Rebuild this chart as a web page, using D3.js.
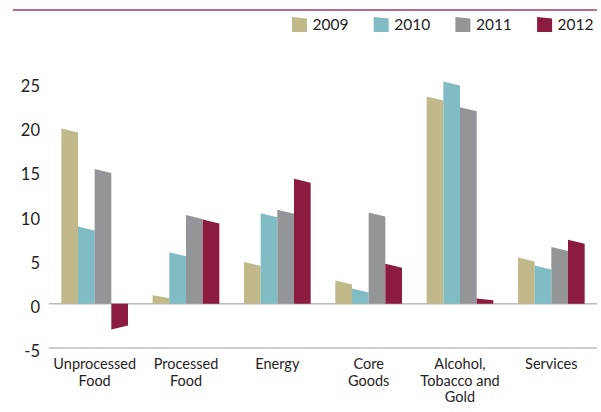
<!DOCTYPE html>
<html>
<head>
<meta charset="utf-8">
<script src="https://cdn.jsdelivr.net/npm/d3@7"></script>
<style>
  body { margin: 0; background: #fff; }
  text { font-family: Lato, "Open Sans", sans-serif; fill: #262223; }
</style>
</head>
<body>
<div id="chart"></div>
<script>
// data
var categories = [['Unprocessed', 'Food'], ['Processed', 'Food'], ['Energy'],
                  ['Core', 'Goods'], ['Alcohol,', 'Tobacco and', 'Gold'], ['Services']];
var years = ['2009', '2010', '2011', '2012'];
var v2009 = [19.6, 0.8, 4.5, 2.4, 23.2, 5.0];
var v2010 = [8.5, 5.6, 10.0, 1.5, 24.9, 4.1];
var v2011 = [15.0, 9.8, 10.4, 10.1, 22.0, 6.2];
var v2012 = [-2.7, 9.3, 13.9, 4.3, 0.5, 7.0];
var yTicks = [-5, 0, 5, 10, 15, 20, 25];
var colors = ['#c1b98a', '#80bcc4', '#939598', '#8b1b3f'];

var series = [v2009, v2010, v2011, v2012];
var catNames = categories.map(function(c){ return c.join(' '); });

var svg = d3.select('#chart')
            .append('svg')
            .attr('width', 601)
            .attr('height', 412);

// top rule
svg.append('line')
   .attr('x1', 13).attr('x2', 597)
   .attr('y1', 10).attr('y2', 10)
   .style('stroke', '#a53b60')
   .style('stroke-width', 1.6);

var x0 = d3.scaleBand().domain(catNames).range([49, 597])
           .paddingInner(0.27).paddingOuter(0.135);
var x1 = d3.scaleBand().domain(years).range([0, x0.bandwidth()]);
var y = d3.scaleLinear().domain([-5, 25]).range([347.9, 82.7]);

// gridlines (only 0 and -5 drawn)
svg.selectAll('.grid')
   .data([-5, 0])
   .enter().append('line')
   .attr('class', 'grid')
   .attr('x1', 49).attr('x2', 597)
   .attr('y1', function(d){ return y(d); })
   .attr('y2', function(d){ return y(d); })
   .style('stroke', '#bcbcbc')
   .style('stroke-width', 1.5);

// y axis labels (plain hyphen for negatives)
var yAxis = d3.axisLeft(y).tickValues(yTicks).tickSize(0).tickPadding(0)
              .tickFormat(function(d){ return String(d); });
var yg = svg.append('g').attr('transform', 'translate(40,3.5)').call(yAxis);
yg.select('.domain').remove();
yg.selectAll('text')
  .style('font-family', 'Lato, "Open Sans", sans-serif')
  .style('font-size', '16.5px')
  .style('fill', '#262223');

// slanted bar shape
function barPath(xa, xb, v, maxSlant){
  var y0 = y(0), yv = y(v);
  var s = Math.min(maxSlant, Math.abs(y0 - yv) * 0.4);
  var dir = v >= 0 ? -1 : 1;
  var yl = yv + dir * s / 2, yr = yv - dir * s / 2;
  return 'M' + xa + ',' + y0 + 'L' + xa + ',' + yl + 'L' + xb + ',' + yr + 'L' + xb + ',' + y0 + 'Z';
}

var groups = svg.selectAll('.cat')
   .data(catNames)
   .enter().append('g')
   .attr('class', 'cat')
   .attr('transform', function(d){ return 'translate(' + x0(d) + ',0)'; });

groups.selectAll('path')
   .data(function(d, i){
     return years.map(function(yr, k){ return {year: yr, value: series[k][i], k: k}; });
   })
   .enter().append('path')
   .attr('d', function(d){
     var xa = x1(d.year), xb = xa + x1.bandwidth();
     return barPath(xa, xb, d.value, 4);
   })
   .style('fill', function(d){ return colors[d.k]; });

// category labels
groups.append('text')
   .attr('x', x0.bandwidth() / 2)
   .attr('y', 369)
   .attr('text-anchor', 'middle')
   .style('font-size', '14.5px')
   .selectAll('tspan')
   .data(function(d, i){ return categories[i]; })
   .enter().append('tspan')
   .attr('x', x0.bandwidth() / 2)
   .attr('dy', function(d, i){ return i === 0 ? 0 : 16.5; })
   .text(function(d){ return d; });

// legend
var legend = svg.selectAll('.leg')
   .data(years)
   .enter().append('g')
   .attr('class', 'leg')
   .attr('transform', function(d, i){ return 'translate(' + (292 + i * 81.7) + ',17)'; });

legend.append('path')
   .attr('d', 'M0,15L0,0L15,1.5L15,15Z')
   .style('fill', function(d, i){ return colors[i]; });

legend.append('text')
   .attr('x', 20.5)
   .attr('y', 13)
   .style('font-size', '15.5px')
   .text(function(d){ return d; });
</script>
</body>
</html>
